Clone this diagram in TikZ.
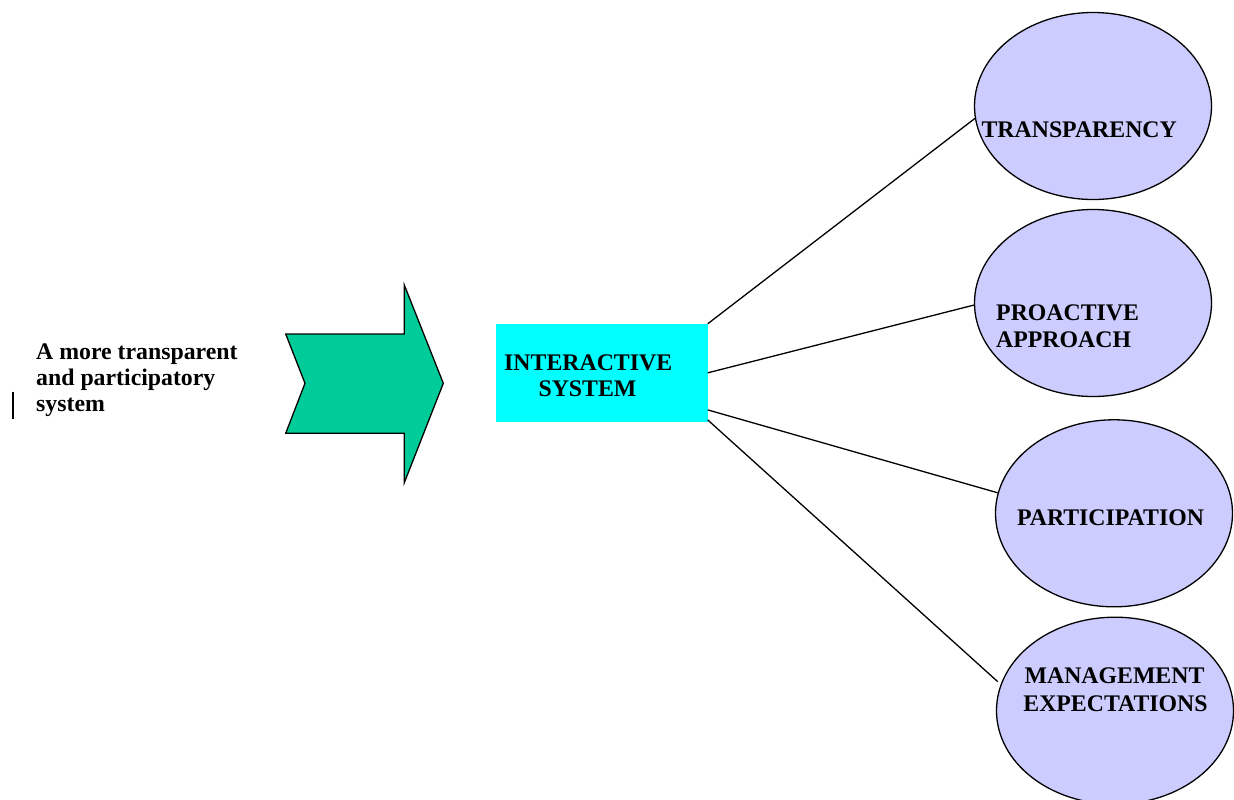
\documentclass[tikz,border=0pt]{standalone}
\usepackage{fontspec}
\setmainfont{Liberation Serif}
\usetikzlibrary{shapes.geometric}
\definecolor{arrowgreen}{HTML}{00CC99}
\definecolor{boxcyan}{HTML}{00FFFF}
\definecolor{ovalblue}{HTML}{CCCCFF}
\tikzset{
  label/.style={inner sep=0pt, font=\fontsize{23.8}{26.8}\selectfont\bfseries},
  oval/.style={ellipse, draw=black, line width=1.3pt, fill=ovalblue,
    minimum width=237pt, minimum height=187pt, inner sep=0pt},
  link/.style={draw=black, line width=1.3pt},
}
\begin{document}
\begin{tikzpicture}[x=1pt, y=-1pt]
  \useasboundingbox (0,0) rectangle (1234,800);
  \clip (0,0) rectangle (1234,800);

  % caption on the left
  \node[label, anchor=base west] (cap1) at (36,359.3) {A more transparent};
  \node[label, anchor=base west] (cap2) at (36,385.5) {and participatory};
  \node[label, anchor=base west] (cap3) at (36,411.7) {system};
  \draw[line width=2pt] (12.7,391.7) -- (12.7,419.3);

  % notched block arrow
  \draw[fill=arrowgreen, line width=1.3pt, line join=miter]
    (285.7,334) -- (404.3,334) -- (404.3,285) -- (443.3,383.3)
    -- (404.3,482.7) -- (404.3,433.3) -- (285.7,433.3) -- (305,383.3) -- cycle;

  % central box
  \node[fill=boxcyan, minimum width=211.5pt, minimum height=97.7pt,
        inner sep=0pt] (sys) at (601.75,372.85) {};
  \node[label, anchor=base] (sysA) at (588.2,370) {INTERACTIVE};
  \node[label, anchor=base] (sysB) at (587.5,396.7) {SYSTEM};

  % outcome ovals
  \node[oval] (e1) at (1093,106) {};
  \node[oval] (e2) at (1093,303) {};
  \node[oval] (e3) at (1114,513.3) {};
  \node[oval] (e4) at (1115,710.7) {};

  \node[label, anchor=base] (t1) at (1079.2,137.3) {TRANSPARENCY};
  \node[label, anchor=base west] (t2a) at (996,320) {PROACTIVE};
  \node[label, anchor=base west] (t2b) at (996,347.3) {APPROACH};
  \node[label, anchor=base] (t3) at (1110.5,525) {PARTICIPATION};
  \node[label, anchor=base] (t4a) at (1114.5,683.3) {MANAGEMENT};
  \node[label, anchor=base] (t4b) at (1115.5,711) {EXPECTATIONS};

  % connectors from the box to the ovals
  \draw[link] (sys.north east) -- (e1.186.2);
  \draw[link] (sys.east) -- (e2.181.8);
  \draw[link] ([yshift=12pt]sys.south east) -- (e3.170);
  \draw[link, shorten >=4pt] ([yshift=2pt]sys.south east) -- (e4.167.4);
\end{tikzpicture}
\end{document}
